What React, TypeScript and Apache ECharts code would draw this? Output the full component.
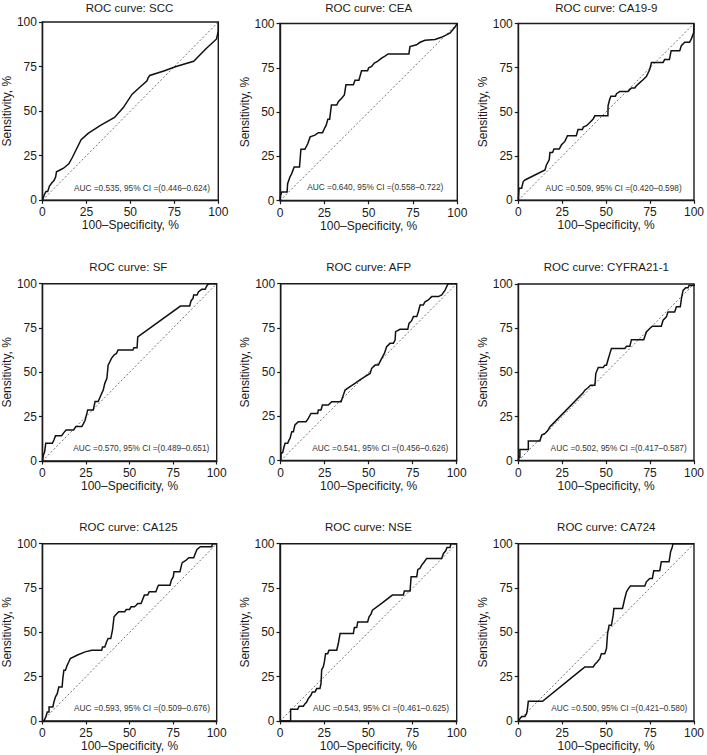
import React, { useEffect, useRef } from "react";
import * as echarts from "echarts";

const markers = ["SCC", "CEA", "CA19-9", "SF", "AFP", "CYFRA21-1", "CA125", "NSE", "CA724"];
const aucLabels = [
  "AUC =0.535, 95% CI =(0.446–0.624)",
  "AUC =0.640, 95% CI =(0.558–0.722)",
  "AUC =0.509, 95% CI =(0.420–0.598)",
  "AUC =0.570, 95% CI =(0.489–0.651)",
  "AUC =0.541, 95% CI =(0.456–0.626)",
  "AUC =0.502, 95% CI =(0.417–0.587)",
  "AUC =0.593, 95% CI =(0.509–0.676)",
  "AUC =0.543, 95% CI =(0.461–0.625)",
  "AUC =0.500, 95% CI =(0.421–0.580)",
];
const xAxisName = "100–Specificity, %";
const yAxisName = "Sensitivity, %";
const diagonal = [[0, 0], [100, 100]];

const scc = [[0,0],[1,3],[2,5],[3,5],[4,8],[5.5,10],[6.5,11],[7.5,13],[8,16],[10,17],[12,18],[15,20.5],[17,24],[22,34],[26,37.5],[33,42],[41,46.5],[46,52],[51,59.5],[56,64],[59.5,67],[60,68.5],[61,70],[69,72.5],[76,75],[86,78],[93,85],[99,90.5],[100,95],[100,100]];
const cea = [[0,0],[0.3,3],[1,4.9],[4,4.9],[4.3,9.6],[5.6,13.4],[6.6,15.3],[8,19],[11,19],[11.8,29],[14,29],[15.6,32],[17,36],[19.7,37],[21.6,38.4],[24,38.4],[25,40.6],[26,42.5],[27,46],[28,46],[29,54],[32,54],[33,56],[34.8,57.8],[36.3,59.7],[37.2,65.4],[41.4,65.4],[42.3,68],[44.5,68],[46,73.3],[49.4,73.3],[50,75],[51.7,75.8],[53.2,77.7],[55,78.6],[57.3,80.5],[59,81.5],[61,82.8],[72.7,82.8],[73.3,87],[77,88],[79,89.4],[81.8,90.5],[87.4,91],[91,92.2],[93,93.2],[96,94.7],[98.7,98],[100,100]];
const ca199 = [[0,0],[0.4,6.8],[1.9,6.8],[2.8,10.6],[3.8,11.5],[15.2,17.2],[16,20],[17.6,22.9],[18,27],[19.5,27],[20.3,29],[23.3,29],[24.6,31.4],[26.5,33.3],[28,36.5],[33,36.5],[34,40],[36.5,40],[37,41.4],[38.8,42.2],[40.7,44],[42.6,46],[43.6,47.8],[51,47.8],[51.1,53.5],[52,57],[52.7,58.8],[55.3,58.8],[55.9,60.3],[57.8,61.6],[62.5,61.6],[64.4,63.5],[66.3,63.5],[67.2,64.8],[69,66.4],[71,68.2],[72.9,70],[74.8,74],[75.8,78],[82.4,78],[83.3,79.6],[86,79.6],[87,84.6],[91.9,84.6],[92.8,87.5],[94.7,89.4],[97.5,89.4],[98.5,91.3],[99.8,94.7],[100,100]];
const sf = [[0,0],[0.6,3.4],[1.3,5.3],[1.9,10],[5.7,10],[6.6,11.8],[7.5,14.3],[11,14.3],[12.3,16],[13.6,17.5],[17.9,17.5],[19.2,19.4],[22.6,19.4],[23.6,21.2],[24.5,23],[26,28.8],[29.2,28.8],[30.2,33.5],[32,33.5],[33.6,37.2],[34.9,40],[35.8,43.8],[37,46.6],[37.7,54],[38.7,56],[39.6,57.9],[41.1,59.8],[42.5,60.7],[43.4,62.6],[51.9,62.6],[52.5,63.9],[54.3,63.9],[54.7,70],[79.2,87.4],[84.5,87.4],[85.3,90.4],[86.4,91.7],[86.8,93.6],[88.7,93.6],[89.6,95.5],[91.5,96.8],[93.4,96.8],[94.3,98.7],[95.3,100],[100,100]];
const afp = [[0,0],[0.2,4.5],[1.1,4.5],[1.9,7.9],[2.5,9.8],[4,9.8],[4.7,11.7],[5.3,12.6],[6.3,16.4],[7.2,16.4],[8.1,20.2],[10,22],[14.4,22],[15.7,23.9],[17.2,26.7],[21,26.7],[21.4,28.6],[22.9,28.6],[23.7,31.4],[27,31.4],[29,33.3],[34.3,33.3],[35.6,37.1],[36.6,39.9],[39.4,41.8],[42.2,43.7],[45,45.6],[47.9,47.5],[50.8,49.3],[51.7,52.2],[53.6,54],[55.5,54],[57.4,57.8],[58.9,60.6],[60.2,64.4],[62.1,66.3],[64,66.3],[65,68.2],[65.3,72.9],[67.8,74.2],[72.2,74.2],[72.9,77.6],[74.4,79.1],[75.4,81.4],[77.3,81.4],[78.2,84.2],[79.2,87.9],[81,87.9],[82,89.8],[83.9,90.8],[85.8,92.7],[89.6,92.7],[91.5,93.6],[93.4,96.4],[94.9,99.6],[95.3,100],[100,100]];
const cyfra = [[0,0],[0.4,1.9],[0.9,1.9],[0.9,6.4],[5.7,6.4],[5.7,11.1],[12.3,11.1],[13.3,14.5],[15.2,15.4],[17,17.3],[18,19.2],[19.5,20.7],[36.9,38.4],[37.9,39.9],[39.8,41.4],[41.1,42.7],[43.6,42.7],[44.1,49.3],[45.5,52.7],[48.3,52.7],[49.2,54],[50.2,54],[51.1,57.3],[52.1,60.6],[53,63.5],[60.6,63.5],[61.6,64.8],[63.5,64.8],[64.4,68.5],[71.4,68.5],[72.9,72.9],[74.8,74.8],[76.3,76.1],[81.4,76.1],[82.4,79.5],[84.3,81.4],[85.2,84.2],[89,84.2],[90,87.1],[92.2,87.1],[93,92.7],[93.8,96.4],[95.3,97.9],[96.6,97.9],[97.2,99.2],[100,99.2],[100,100]];
const ca125 = [[0,0],[0.9,0],[1.9,2.3],[2.8,5.1],[3.8,5.1],[3.8,7.9],[6,7.9],[6.6,10.7],[7.5,13.6],[8.5,15.4],[9.4,19.2],[11.3,19.2],[11.7,23.9],[12.3,28.6],[13.2,28.6],[14.2,31.4],[15.1,33.3],[16,35.2],[19.8,37.1],[24.5,39],[28.3,39.9],[34,39.9],[34.5,41.8],[35.8,41.8],[36.8,44.6],[37.7,46.5],[39.2,46.5],[40.2,51.2],[41.1,58.8],[42.5,60.3],[43.8,61.6],[47.2,61.6],[48.1,62.9],[50,62.9],[50.9,64.4],[52.8,64.4],[53.8,65.3],[54.7,66.3],[56.6,66.3],[57.5,68.5],[58.5,71],[60.4,71],[61.3,72.9],[65.1,72.9],[66,75.3],[66.6,76.6],[73.2,76.6],[74,79.5],[75.1,81.4],[75.5,84.2],[78.9,84.2],[79.6,87.1],[80.2,89.3],[82.1,90.4],[84,92.1],[86.8,92.1],[87.7,94.5],[88.7,96.8],[90.6,98.3],[97.2,98.3],[97.5,100],[100,100]];
const nse = [[0,0],[6,0],[6,6.6],[10,6.6],[10.8,8.3],[13.2,8.3],[14.2,9.8],[15.1,10.7],[16,12.6],[17.5,14.5],[18.3,16.4],[19.8,16.4],[20.8,18.3],[22.6,18.3],[23.2,21.1],[23.6,29],[24.5,30.5],[25.1,33.3],[25.8,38],[27,38],[27.7,39.9],[32.1,39.9],[33,43.7],[34,49.3],[41.5,49.3],[42.1,52.7],[43.4,52.7],[44,55.9],[49.6,55.9],[50.4,58.8],[51.5,60.3],[52.3,62.5],[57.5,66.3],[63.6,71],[69.8,71],[70.4,73.3],[73.6,73.3],[74.2,81.4],[77.4,81.4],[78,85.5],[79.2,86.1],[80.2,87.9],[81.7,89.8],[83,91.7],[91.5,91.7],[92.5,94.5],[93.8,96],[94.5,97.9],[96.2,97.9],[96.8,100],[100,100]];
const ca724 = [[0,0],[0.9,1.3],[1.9,2.6],[3.8,2.6],[4.7,4.1],[5.1,6],[5.7,11.1],[13.8,11.1],[36,29],[37.9,30.5],[42.6,30.5],[43.6,32],[44.9,33.3],[46.4,35.2],[47.3,38],[49.2,38],[50.2,40.9],[50.8,49.3],[51.7,54],[53,54],[54,59.7],[54.4,63.5],[59.3,63.5],[60.6,69.1],[61.6,72.9],[62.5,74.4],[63.8,76.1],[72,76.1],[72.9,78.5],[74.8,80.4],[76.3,80.4],[77.1,84.7],[80.5,84.7],[81.4,89.8],[85.8,89.8],[86.7,95.5],[87.7,98.3],[88,100],[100,100]];

const curves = [scc, cea, ca199, sf, afp, cyfra, ca125, nse, ca724];

// layout (pixels): plot box left, top, right, bottom
const boxes = [
  { l: 40.7, t: 22, r: 218.3, b: 200.3 },
  { l: 280, t: 23.5, r: 457.3, b: 200.7 },
  { l: 518.3, t: 23.5, r: 694.3, b: 200.3 },
  { l: 40, t: 283.7, r: 216.7, b: 461 },
  { l: 280.7, t: 283.7, r: 456.7, b: 460.7 },
  { l: 518.3, t: 284, r: 694.3, b: 460.7 },
  { l: 40, t: 543.7, r: 216.7, b: 721 },
  { l: 280, t: 543.7, r: 456.7, b: 721 },
  { l: 518.3, t: 543.7, r: 694.3, b: 721 },
];
const titleTops = [1.5, 1.5, 1.5, 261, 261, 261, 521, 521, 521];
const aucRightOffset = [8.3, 14, 12.6, 7.4, 8.4, 7.6, 6.7, 7.7, 7];
const aucBottomOffset = [12.6, 14, 12.7, 12.7, 13, 13, 13, 13, 13];

const FONT = "'Liberation Sans', Arial, Helvetica, sans-serif";
const INK = "#1a1a1a";

export default function App() {
  const ref = useRef<HTMLDivElement>(null);
  useEffect(() => {
    if (!ref.current) return;
    const chart = echarts.init(ref.current, null, { renderer: "svg" });
    const grid: any[] = [];
    const xAxis: any[] = [];
    const yAxis: any[] = [];
    const series: any[] = [];
    const title: any[] = [];
    const graphic: any[] = [];
    boxes.forEach((bx, i) => {
      grid.push({
        left: bx.l,
        top: bx.t,
        width: bx.r - bx.l,
        height: bx.b - bx.t,
        show: true,
        borderColor: INK,
        borderWidth: 1.4,
        backgroundColor: "transparent",
      });
      const axisCommon = {
        type: "value",
        min: 0,
        max: 100,
        interval: 25,
        gridIndex: i,
        nameLocation: "middle",
        nameTextStyle: { fontFamily: FONT, fontSize: 12, color: INK },
        axisLine: { show: true, lineStyle: { color: INK, width: 1.4 } },
        axisTick: { show: true, length: 3.5, lineStyle: { color: INK, width: 1.2 } },
        splitLine: { show: false },
      };
      xAxis.push({
        ...axisCommon,
        name: xAxisName,
        nameGap: 19,
        axisLabel: { fontFamily: FONT, fontSize: 12, color: INK, margin: 6 },
      });
      yAxis.push({
        ...axisCommon,
        name: yAxisName,
        nameGap: 28,
        nameRotate: 90,
        axisLabel: { fontFamily: FONT, fontSize: 12, color: INK, margin: 5.5 },
      });
      series.push({
        type: "line",
        xAxisIndex: i,
        yAxisIndex: i,
        data: diagonal,
        symbol: "none",
        silent: true,
        z: 1,
        lineStyle: { color: "#444", width: 0.75, type: [2, 2] },
      });
      series.push({
        type: "line",
        xAxisIndex: i,
        yAxisIndex: i,
        data: curves[i],
        symbol: "none",
        silent: true,
        z: 3,
        clip: false,
        lineStyle: { color: "#111", width: 1.5, join: "miter" },
      });
      title.push({
        text: "ROC curve: " + markers[i],
        left: (bx.l + bx.r) / 2,
        top: titleTops[i],
        padding: 0,
        textAlign: "center",
        textStyle: { fontFamily: FONT, fontSize: 11.5, fontWeight: "normal", color: INK },
      });
      graphic.push({
        type: "text",
        x: bx.r - aucRightOffset[i],
        y: bx.b - aucBottomOffset[i],
        silent: true,
        style: {
          text: aucLabels[i],
          fontFamily: FONT,
          fontSize: 8.3,
          fill: "#333",
          align: "right",
          verticalAlign: "middle",
        },
      });
    });
    chart.setOption({
      animation: false,
      backgroundColor: "#fff",
      title,
      grid,
      xAxis,
      yAxis,
      series,
      graphic,
    });
    return () => chart.dispose();
  }, []);
  return (
    <div
      ref={ref}
      style={{ position: "fixed", left: 0, top: 0, width: 707, height: 755 }}
    />
  );
}
